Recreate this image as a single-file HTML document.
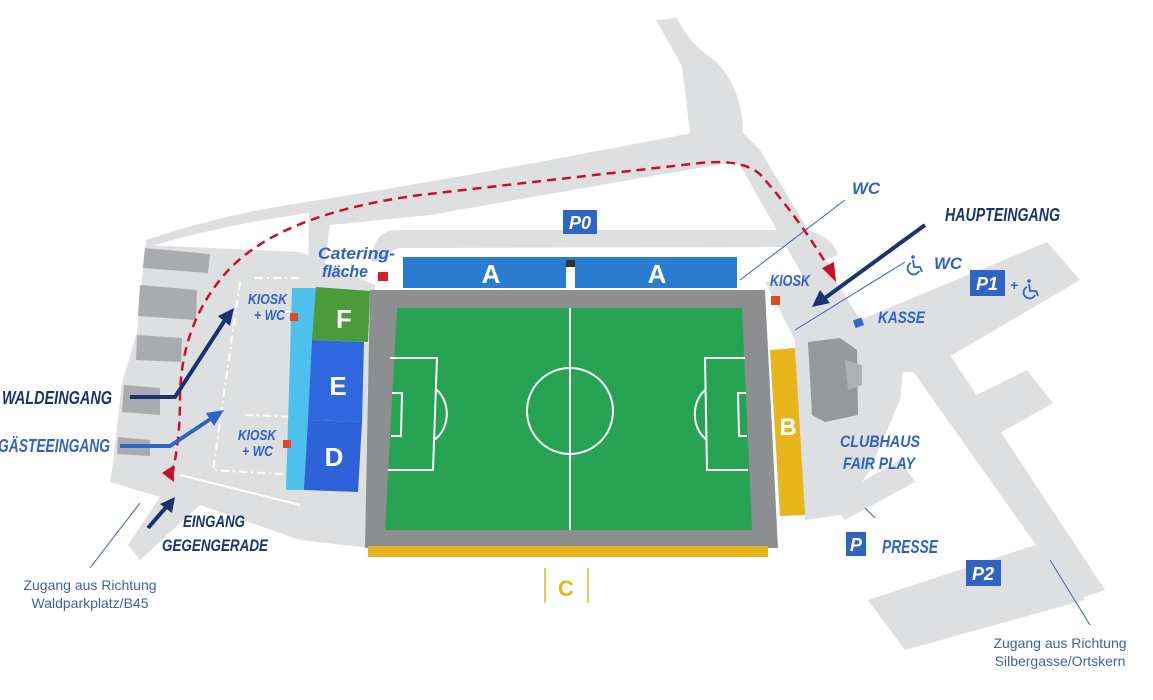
<!DOCTYPE html>
<html><head><meta charset="utf-8"><style>
html,body{margin:0;padding:0;background:#fff;width:1153px;height:700px;overflow:hidden}
svg{display:block}
.l{font-family:"Liberation Sans",sans-serif;font-weight:bold;font-style:italic;fill:#2f63c4}
.d{fill:#17346e}
.w{font-family:"Liberation Sans",sans-serif;font-weight:bold;fill:#fff}
.z{font-family:"Liberation Sans",sans-serif;fill:#3d5fae;font-size:14px}
</style></head><body>
<svg width="1153" height="700" viewBox="0 0 1153 700" xmlns="http://www.w3.org/2000/svg">
<defs>
<g id="wh" fill="none" stroke="#2f63c4" stroke-width="1.8">
<circle cx="3" cy="-13" r="1.8" fill="#2f63c4" stroke="none"/>
<path d="M3 -10 L4 -3 L10 -3 L12 2"/>
<path d="M1 -7 A6 6 0 1 0 9 1"/>
</g>
</defs>
<g fill="#dedfe1">
<path d="M656 20 L677 18 Q690 45 712 58 Q742 85 743 133 L760 150 L838 280 L812 292 L740 165 L692 150 L682 66 Z"/>
<path d="M692 133 L743 140 L745 160 Q600 185 430 215 L330 225 L325 262 L308 262 L309 213 Q220 225 146 248 L146 240 Q220 215 300 203 Q450 180 692 133 Z"/>
<path d="M372 262 Q372 232 395 230 L800 230 Q830 232 838 255 L820 262 Q812 247 795 247 L400 248 Q388 250 388 262 Z"/>
<path d="M145 245 L300 252 L375 285 L370 520 L300 505 L180 478 L113 463 L122 383 L137 333 Z"/>
<path d="M113 463 L180 478 L370 512 L370 548 L300 540 L200 505 L140 560 L128 545 L160 497 L110 482 Z"/>
<path d="M765 282 L835 280 L870 335 L905 350 L900 400 L870 470 L840 515 L805 520 L798 470 L795 340 Z"/>
<path d="M860 320 L1047 242 L1080 280 L923 372 L880 372 Z"/>
<path d="M905 360 L950 355 L1105 590 L1075 600 Z"/>
<path d="M960 403 L1027 370 L1053 403 L993 437 Z"/>
<path d="M868 600 L1035 545 L1085 600 L905 650 Z"/>
<path d="M830 500 L900 460 L915 482 L845 520 Z"/>
</g>
<g fill="#a9abae">
<path d="M145 248 L210 254 L208 273 L143 268Z"/>
<path d="M140 285 L197 290 L196 320 L138 316Z"/>
<path d="M137 335 L182 338 L181 362 L136 360Z"/>
<path d="M124 385 L160 388 L160 415 L122 412Z"/>
<path d="M118 437 L150 440 L150 456 L117 454Z"/>
</g>
<g stroke="#fff" stroke-width="2" stroke-dasharray="8 4 2 4" fill="none">
<path d="M255 278 L300 278 M265 312 L298 312 M240 282 L213 470 L295 475 M245 415 L295 417"/>
<path d="M180 475 L300 505" stroke-dasharray="none"/>
</g>
<path d="M370 290 L765 290 L778 548 L365 548 Z" fill="#8d8e90"/>
<path d="M397 308 L742 308 L752 530 L385 530 Z" fill="#26a353"/>
<g stroke="#fff" stroke-width="2" fill="none">
<line x1="570" y1="308" x2="570" y2="530"/>
<circle cx="570" cy="411" r="43"/>
<path d="M390 358 L437 358 L433 470 L388 470"/>
<path d="M392 393 L402 393 L401 436 L391 436"/>
<path d="M437 390 A25 30 0 0 1 434 440"/>
<path d="M745 358 L705 358 L707 470 L748 470"/>
<path d="M746 393 L738 393 L739 436 L747 436"/>
<path d="M705 390 A25 30 0 0 0 707 440"/>
</g>
<path d="M403 257 L737 257 L737 288 L403 288 Z" fill="#2a7cd0"/>
<rect x="566" y="260" width="9" height="28" fill="#fff"/><rect x="566" y="260" width="9" height="7" fill="#333"/>
<path d="M368 546 L768 546 L768 557 L368 557 Z" fill="#e8b51c"/>
<path d="M770 350 L795 348 L805 515 L780 516 Z" fill="#e8b51c"/>
<path d="M292 288 L318 288 L305 490 L286 490 Z" fill="#4ec0ee"/>
<path d="M316 287 L370 291 L368 342 L312 340 Z" fill="#4b9a3c"/>
<path d="M312 340 L364 342 L362 422 L308 420 Z" fill="#2f68de"/>
<path d="M308 420 L362 422 L358 492 L304 490 Z" fill="#2f62d8"/>
<text class="w" x="491" y="283" font-size="26" text-anchor="middle">A</text>
<text class="w" x="657" y="283" font-size="26" text-anchor="middle">A</text>
<text class="w" x="344" y="328" font-size="26" text-anchor="middle">F</text>
<text class="w" x="338" y="395" font-size="26" text-anchor="middle">E</text>
<text class="w" x="334" y="466" font-size="26" text-anchor="middle">D</text>
<text class="w" x="788" y="435" font-size="24" text-anchor="middle">B</text>
<path d="M808 342 L840 338 L857 350 L858 415 L825 422 L812 415 Z" fill="#97989b"/>
<path d="M845 360 L862 365 L862 385 L848 390Z" fill="#b0b1b3"/>
<rect x="378" y="272" width="10" height="9" fill="#d0202e"/>
<rect x="290" y="313" width="8" height="8" fill="#e04a22"/>
<rect x="283" y="440" width="8" height="8" fill="#e04a22"/>
<rect x="771" y="296" width="9" height="9" fill="#e04a22"/>
<rect x="854" y="319" width="9" height="8" fill="#2b6dd0" transform="rotate(-20 858 323)"/>
<g stroke="#3d5fae" stroke-width="1" fill="none">
<line x1="740" y1="280" x2="845" y2="200"/>
<line x1="795" y1="330" x2="905" y2="262"/>
<line x1="90" y1="568" x2="140" y2="503"/>
<line x1="865" y1="508" x2="875" y2="518"/>
<line x1="1050" y1="560" x2="1090" y2="625"/>
</g>
<path d="M172 475 Q180 440 180 400 Q180 330 220 280 Q270 215 420 195 Q550 180 700 163 Q750 158 765 180 Q800 220 830 270" stroke="#c8102e" stroke-width="2.5" fill="none" stroke-dasharray="9 6"/>
<path d="M822 268 L836 282 L834 262Z" fill="#c8102e"/>
<path d="M162 473 L174 465 L174 482Z" fill="#c8102e"/>
<g stroke-width="4" fill="none">
<path d="M130 397 L175 397 L225 320" stroke="#17346e"/>
<path d="M120 446 L170 446 L212 418" stroke="#2f63c4"/>
<path d="M148 528 L168 505" stroke="#17346e"/>
<path d="M925 225 L825 298" stroke="#17346e"/>
</g>
<path d="M234 308 L218 316 L230 326Z" fill="#17346e"/>
<path d="M224 410 L206 413 L214 426Z" fill="#2f63c4"/>
<path d="M175 497 L160 504 L172 513Z" fill="#17346e"/>
<path d="M812 307 L820 290 L830 303Z" fill="#17346e"/>
<text class="l d" x="2" y="404" font-size="18" textLength="110" lengthAdjust="spacingAndGlyphs">WALDEINGANG</text>
<text class="l" x="-2" y="452" font-size="18" textLength="112" lengthAdjust="spacingAndGlyphs">GÄSTEEINGANG</text>
<text class="l d" x="183" y="527" font-size="17" textLength="62" lengthAdjust="spacingAndGlyphs">EINGANG</text>
<text class="l d" x="162" y="551" font-size="17" textLength="106" lengthAdjust="spacingAndGlyphs">GEGENGERADE</text>
<text class="l" x="318" y="259" font-size="17" textLength="77" lengthAdjust="spacingAndGlyphs">Catering-</text>
<text class="l" x="322" y="277" font-size="17" textLength="46" lengthAdjust="spacingAndGlyphs">fläche</text>
<text class="l" x="248" y="304" font-size="15" textLength="39" lengthAdjust="spacingAndGlyphs">KIOSK</text>
<text class="l" x="254" y="320" font-size="15" textLength="31" lengthAdjust="spacingAndGlyphs">+ WC</text>
<text class="l" x="238" y="440" font-size="15" textLength="38" lengthAdjust="spacingAndGlyphs">KIOSK</text>
<text class="l" x="242" y="456" font-size="15" textLength="31" lengthAdjust="spacingAndGlyphs">+ WC</text>
<text class="l" x="852" y="194" font-size="17" textLength="28" lengthAdjust="spacingAndGlyphs">WC</text>
<text class="l d" x="945" y="221" font-size="18" textLength="115" lengthAdjust="spacingAndGlyphs">HAUPTEINGANG</text>
<use href="#wh" x="910" y="270"/>
<text class="l" x="934" y="269" font-size="17" textLength="28" lengthAdjust="spacingAndGlyphs">WC</text>
<text class="l" x="770" y="286" font-size="16" textLength="40" lengthAdjust="spacingAndGlyphs">KIOSK</text>
<text class="l" x="878" y="323" font-size="17" textLength="47" lengthAdjust="spacingAndGlyphs">KASSE</text>
<text class="l" x="840" y="447" font-size="17" textLength="80" lengthAdjust="spacingAndGlyphs">CLUBHAUS</text>
<text class="l" x="843" y="469" font-size="17" textLength="72" lengthAdjust="spacingAndGlyphs">FAIR PLAY</text>
<text class="l" x="882" y="553" font-size="18" textLength="56" lengthAdjust="spacingAndGlyphs">PRESSE</text>
<rect x="563" y="210" width="34" height="24" fill="#2f63c4"/>
<text class="w" x="580" y="229" font-size="18" text-anchor="middle" font-style="italic">P0</text>
<rect x="970" y="270" width="35" height="26" fill="#2f63c4"/>
<text class="w" x="987" y="290" font-size="18" text-anchor="middle" font-style="italic">P1</text>
<text class="l" x="1010" y="290" font-size="14">+</text>
<use href="#wh" x="1026" y="294"/>
<rect x="846" y="532" width="20" height="24" fill="#2f63c4"/>
<text class="w" x="856" y="551" font-size="18" text-anchor="middle" font-style="italic">P</text>
<rect x="966" y="560" width="35" height="26" fill="#2f63c4"/>
<text class="w" x="983" y="580" font-size="18" text-anchor="middle" font-style="italic">P2</text>
<line x1="545" y1="568" x2="545" y2="603" stroke="#e8b51c" stroke-width="1.5"/>
<line x1="588" y1="568" x2="588" y2="603" stroke="#e8b51c" stroke-width="1.5"/>
<text x="566" y="596" font-size="22" font-family="Liberation Sans,sans-serif" font-weight="bold" fill="#e8b51c" text-anchor="middle">C</text>
<text class="z" x="90" y="590" text-anchor="middle">Zugang aus Richtung</text>
<text class="z" x="90" y="608" text-anchor="middle">Waldparkplatz/B45</text>
<text class="z" x="1060" y="648" text-anchor="middle">Zugang aus Richtung</text>
<text class="z" x="1060" y="666" text-anchor="middle">Silbergasse/Ortskern</text>
</svg>
</body></html>
